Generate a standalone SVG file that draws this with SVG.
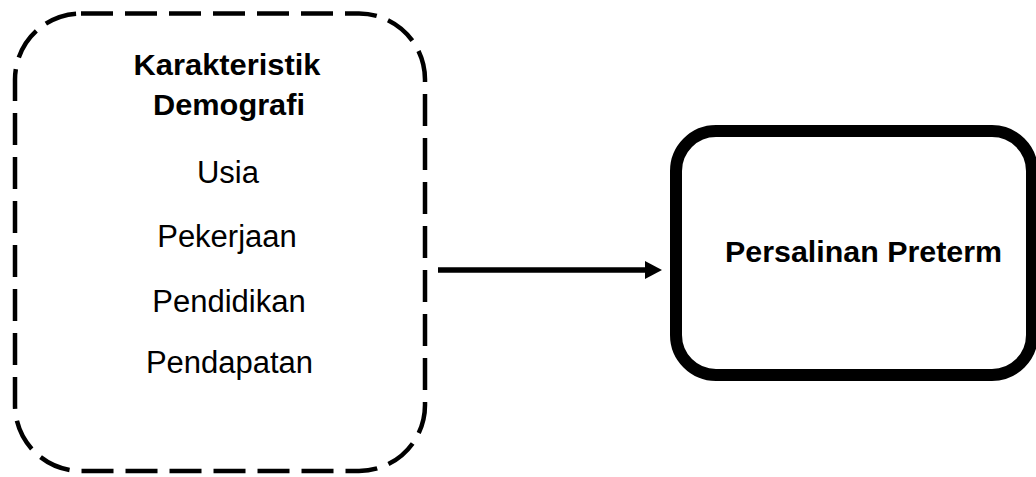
<svg xmlns="http://www.w3.org/2000/svg" width="1036" height="477" viewBox="0 0 1036 477">
  <style>
    .dashed { fill: none; stroke: #000; stroke-width: 4.5; stroke-dasharray: 32 12; }
    .solid { fill: none; stroke: #000; stroke-width: 12; }
    .bold { font-family: "Liberation Sans", Arial, sans-serif; font-weight: bold; font-size: 29px; fill: #000; text-anchor: middle; }
    .reg { font-family: "Liberation Sans", Arial, sans-serif; font-size: 31px; fill: #000; text-anchor: middle; }
    .link { stroke: #000; stroke-width: 5.5; fill: none; }
  </style>
  <defs>
    <marker id="arrowhead" markerUnits="userSpaceOnUse" markerWidth="18" markerHeight="20" refX="1" refY="10" orient="auto">
      <polygon points="0,1 17,10 0,19" fill="#000"/>
    </marker>
  </defs>
  <rect width="1036" height="477" fill="#fff"/>

  <!-- Demographic characteristics group -->
  <g id="node-demografi">
    <rect class="dashed" x="15" y="13.5" width="410" height="457.5" rx="66" ry="66"/>
    <text class="bold" x="227" y="75" textLength="187" lengthAdjust="spacingAndGlyphs">Karakteristik</text>
    <text class="bold" x="229" y="115" textLength="152" lengthAdjust="spacingAndGlyphs">Demografi</text>
    <text class="reg" x="228" y="183">Usia</text>
    <text class="reg" x="227" y="247">Pekerjaan</text>
    <text class="reg" x="229" y="312">Pendidikan</text>
    <text class="reg" x="229.5" y="373">Pendapatan</text>
  </g>

  <!-- Outcome -->
  <g id="node-preterm">
    <rect class="solid" x="676" y="131" width="356" height="244" rx="40" ry="40"/>
    <text class="bold" x="863.5" y="262" textLength="277" lengthAdjust="spacingAndGlyphs">Persalinan Preterm</text>
  </g>

  <g id="connectors">
    <line class="link" x1="438" y1="270" x2="646" y2="270" marker-end="url(#arrowhead)"/>
  </g>
</svg>
